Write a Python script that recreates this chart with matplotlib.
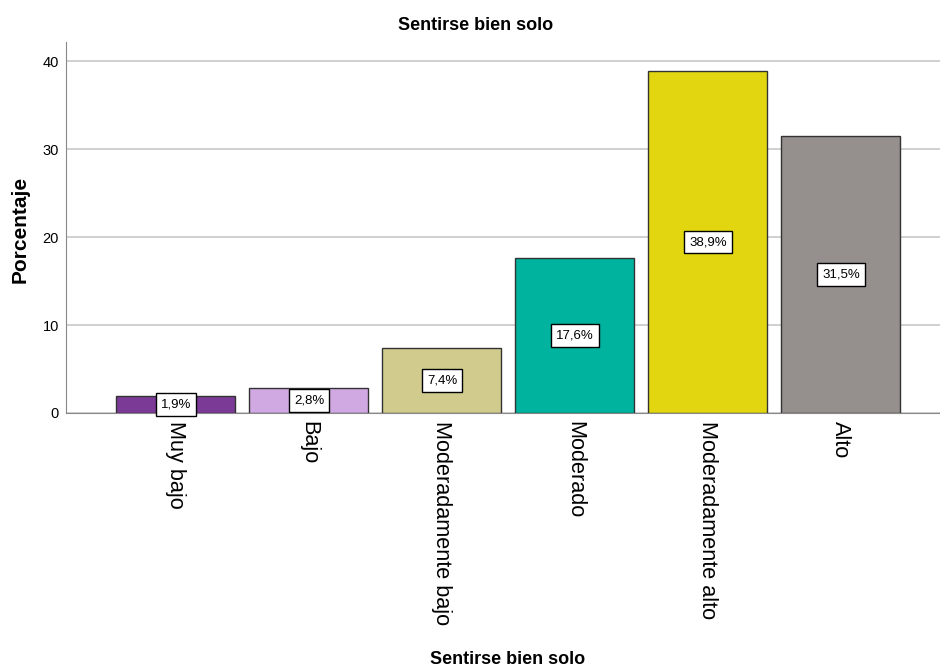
import matplotlib
matplotlib.use("Agg")
import matplotlib.pyplot as plt

categories = ["Muy bajo", "Bajo", "Moderadamente bajo", "Moderado", "Moderadamente alto", "Alto"]
values = [1.9, 2.8, 7.4, 17.6, 38.9, 31.5]
colors = ["#7B3A96", "#D0A9E3", "#D1CB8E", "#00B39E", "#E1D60F", "#958F8D"]
yticks = [0, 10, 20, 30, 40]

plt.rcParams['font.family'] = ['Liberation Sans', 'DejaVu Sans']

fig = plt.figure(figsize=(9.4, 6.7), dpi=100)
ax = fig.add_axes([66/940, 1-413/670, (940-66)/940, (413-42)/670])

x = list(range(len(categories)))
ax.bar(x, values, width=0.895, color=colors, edgecolor="#333333", linewidth=1.0, zorder=3)
for xi, v in zip(x, values):
    ax.text(xi, v/2, f"{v:.1f}%".replace(".", ","), ha="center", va="center", fontsize=9.5,
            bbox=dict(boxstyle="square,pad=0.4", facecolor="white", edgecolor="black", linewidth=1.0),
            zorder=5)

ax.set_xlim(-0.827, 5.745)
ax.set_ylim(0, 42.2)
ax.set_yticks(yticks)
ax.yaxis.grid(True, color="#C8C8C8", linewidth=1.2, zorder=0)
ax.set_xticks(x)
ax.set_xticklabels(categories, rotation=-90, fontsize=15.6, va="top", ha="center")
ax.tick_params(axis="x", length=0, pad=6)
ax.tick_params(axis="y", labelsize=10.5, length=0, pad=5)
for s in ["top", "right"]:
    ax.spines[s].set_visible(False)
ax.spines["left"].set_color("#888888")
ax.spines["bottom"].set_color("#888888")

ax.set_ylabel("")
fig.text(20/940, 1-229/670, "Porcentaje", rotation=90, ha="center", va="center", fontsize=15, fontweight="bold")
fig.text(476/940, 1-25/670, "Sentirse bien solo", ha="center", va="center", fontsize=13, fontweight="bold")
fig.text(508/940, 1-660/670, "Sentirse bien solo", ha="center", va="center", fontsize=13, fontweight="bold")

fig.savefig("out.png", dpi=100)
